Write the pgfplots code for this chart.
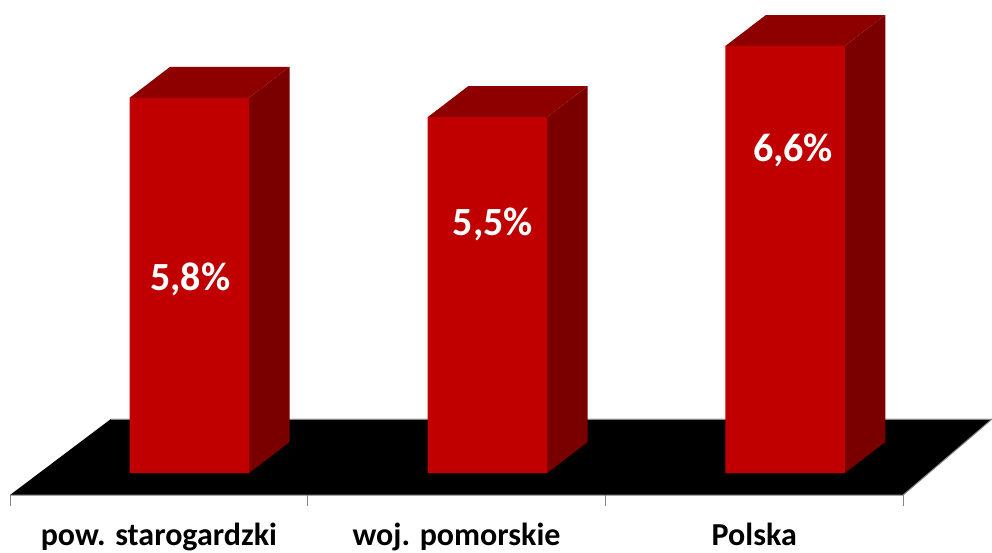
\documentclass[border=0pt]{standalone}
\usepackage{pgfplots}
\pgfplotsset{compat=1.18}
\usepackage{fontspec}
\setmainfont{Carlito}
\definecolor{front}{HTML}{C00000}
\definecolor{sidec}{HTML}{7A0000}
\definecolor{topc}{HTML}{8E0000}
\definecolor{axisgray}{HTML}{868686}
\begin{document}
\begin{tikzpicture}[x=1pt,y=1pt]
\useasboundingbox (0,-57) rectangle (992,495);
\begin{axis}[
  at={(0pt,0pt)}, anchor=south west,
  scale only axis, width=992pt, height=495pt,
  xmin=-0.0336, xmax=3.2986, ymin=-0.34, ymax=7.311,
  axis x line*=bottom, axis y line=none,
  x axis line style={draw=none},
  clip=false,
  xtick={0,1,2,3}, xticklabels={},
  tick align=outside,
  major tick length=11pt,
  tick style={draw=axisgray, line width=1pt},
  extra x ticks={0.5,1.5,2.5},
  extra x tick labels={pow. starogardzki,woj. pomorskie,Polska},
  extra x tick style={major tick length=0pt, tick style={draw=none}},
  x tick label style={font=\fontsize{32}{34}\selectfont\bfseries, text=black, yshift=-50pt, anchor=base, inner sep=0pt},
  ybar, bar width=119.5pt, bar shift=0pt,
]
% floor
\addplot[ybar=0pt, sharp plot, fill=black, draw=none, forget plot] coordinates {(0,-0.34) (3,-0.34) (3.299,0.835) (0.339,0.835)} --cycle;
\addplot[sharp plot, draw=axisgray, line width=1pt, forget plot] coordinates {(0,-0.34) (3,-0.34) (3.299,0.835)};
\addplot[sharp plot, draw=axisgray, line width=0.5pt, forget plot] coordinates {(0.339,0.835) (3.299,0.835)};
% sides and tops
\addplot[sharp plot, fill=sidec, draw=none, forget plot] coordinates {(0.803,0) (0.939,0.479) (0.939,6.279) (0.803,5.8)} --cycle;
\addplot[sharp plot, fill=topc, draw=none, forget plot] coordinates {(0.402,5.8) (0.803,5.8) (0.939,6.279) (0.538,6.279)} --cycle;
\addplot[sharp plot, fill=sidec, draw=none, forget plot] coordinates {(1.804,0) (1.940,0.479) (1.940,5.979) (1.804,5.5)} --cycle;
\addplot[sharp plot, fill=topc, draw=none, forget plot] coordinates {(1.403,5.5) (1.804,5.5) (1.940,5.979) (1.539,5.979)} --cycle;
\addplot[sharp plot, fill=sidec, draw=none, forget plot] coordinates {(2.804,0) (2.940,0.479) (2.940,7.079) (2.804,6.6)} --cycle;
\addplot[sharp plot, fill=topc, draw=none, forget plot] coordinates {(2.403,6.6) (2.804,6.6) (2.940,7.079) (2.539,7.079)} --cycle;
% fronts
\addplot[ybar, fill=front, draw=none] coordinates {(0.6025,5.8) (1.6035,5.5) (2.6035,6.6)};
% value labels
\node[text=white, font=\fontsize{40}{42}\selectfont\bfseries] at (axis cs:0.6055,3.00) {5,8\%};
\node[text=white, font=\fontsize{40}{42}\selectfont\bfseries] at (axis cs:1.622,3.85) {5,5\%};
\node[text=white, font=\fontsize{40}{42}\selectfont\bfseries] at (axis cs:2.6305,4.99) {6,6\%};
\end{axis}
\end{tikzpicture}
\end{document}
